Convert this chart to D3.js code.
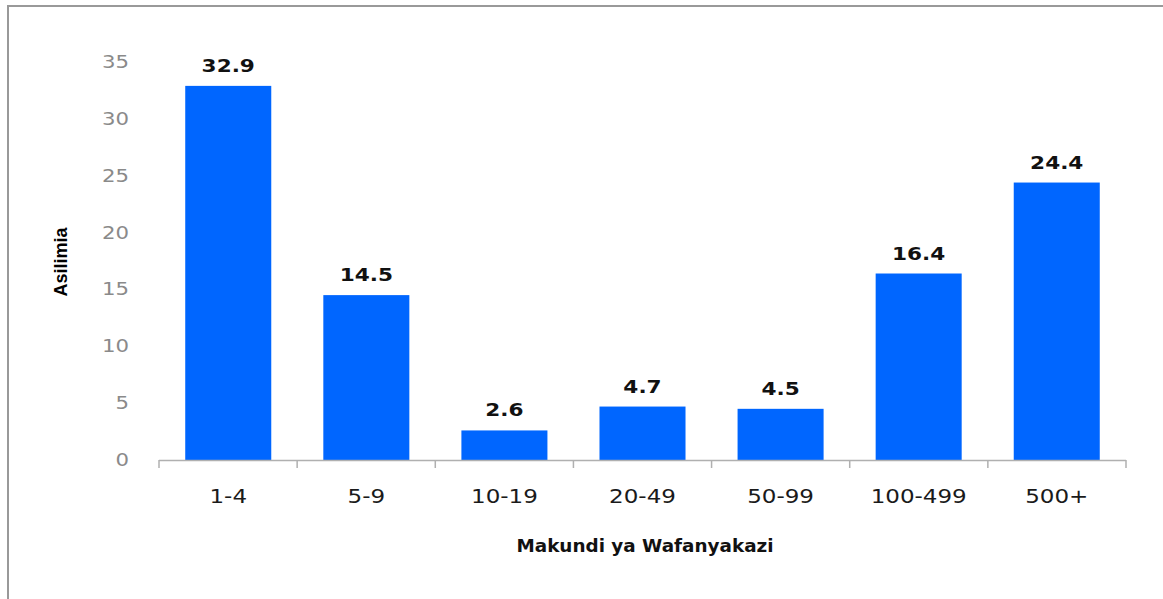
<!DOCTYPE html>
<html>
<head>
<meta charset="utf-8">
<script src="https://d3js.org/d3.v7.min.js"></script>
<style>
  body { margin: 0; background: #fff; }
  svg { display: block; }
</style>
</head>
<body>
<svg width="1163" height="599"></svg>
<script>
// chart data
const categories = ["1-4", "5-9", "10-19", "20-49", "50-99", "100-499", "500+"];
const values = [32.9, 14.5, 2.6, 4.7, 4.5, 16.4, 24.4];
const yTicks = [0, 5, 10, 15, 20, 25, 30, 35];

const svg = d3.select("svg");

// frame (only left and top edges show in the original)
svg.append("line").attr("x1", 8).attr("x2", 8).attr("y1", 6).attr("y2", 599)
  .attr("stroke", "#999").attr("stroke-width", 2);
svg.append("line").attr("x1", 7).attr("x2", 1163).attr("y1", 6).attr("y2", 6)
  .attr("stroke", "#999").attr("stroke-width", 2);

const plotLeft = 159, plotRight = 1126, plotTop = 62, plotBottom = 460;

const x = d3.scaleBand()
  .domain(categories)
  .range([plotLeft, plotRight])
  .paddingInner(0.377)
  .paddingOuter(0.19);

const y = d3.scaleLinear().domain([0, 35]).range([plotBottom, plotTop]);

// the source picture is a bit stretched sideways, so text gets a horizontal scale
const place = (px, py, sx) => `translate(${px},${py}) scale(${sx},1)`;

// bars
svg.append("g").selectAll("rect")
  .data(values)
  .join("rect")
  .attr("x", (d, i) => x(categories[i]))
  .attr("y", d => y(d))
  .attr("width", x.bandwidth())
  .attr("height", d => y(0) - y(d))
  .attr("fill", "#0066ff");

// value labels
svg.append("g").selectAll("text")
  .data(values)
  .join("text")
  .attr("transform", (d, i) => place(x(categories[i]) + x.bandwidth() / 2, y(d) - 14, 1.2))
  .attr("text-anchor", "middle")
  .attr("font-family", "DejaVu Sans")
  .attr("font-weight", "bold")
  .attr("font-size", 18)
  .attr("fill", "#111")
  .text(d => d.toFixed(1));

// y tick labels (no axis line)
svg.append("g").selectAll("text")
  .data(yTicks)
  .join("text")
  .attr("transform", d => place(129, y(d) + 6, 1.25))
  .attr("text-anchor", "end")
  .attr("font-family", "DejaVu Sans")
  .attr("font-size", 17)
  .attr("fill", "#8a8a8a")
  .text(d => d);

// x axis line with ticks at category boundaries
const bounds = d3.range(categories.length + 1)
  .map(i => plotLeft + i * (plotRight - plotLeft) / categories.length);
svg.append("line").attr("x1", plotLeft).attr("x2", plotRight)
  .attr("y1", plotBottom + 0.5).attr("y2", plotBottom + 0.5)
  .attr("stroke", "#b0b0b0").attr("stroke-width", 1.5);
svg.append("g").selectAll("line")
  .data(bounds)
  .join("line")
  .attr("x1", d => d).attr("x2", d => d)
  .attr("y1", plotBottom).attr("y2", plotBottom + 8)
  .attr("stroke", "#b0b0b0").attr("stroke-width", 1.5);

// category labels
svg.append("g").selectAll("text")
  .data(categories)
  .join("text")
  .attr("transform", d => place(x(d) + x.bandwidth() / 2, 503, 1.15))
  .attr("text-anchor", "middle")
  .attr("font-family", "DejaVu Sans")
  .attr("font-size", 20)
  .attr("fill", "#1a1a1a")
  .text(d => d);

// axis titles
svg.append("text")
  .attr("transform", place(645, 552, 1.05))
  .attr("text-anchor", "middle")
  .attr("font-family", "DejaVu Sans")
  .attr("font-weight", "bold")
  .attr("font-size", 17.5)
  .attr("fill", "#111")
  .text("Makundi ya Wafanyakazi");

svg.append("text")
  .attr("transform", "translate(67,262) rotate(-90)")
  .attr("text-anchor", "middle")
  .attr("font-family", "Liberation Sans Narrow, Liberation Sans, sans-serif")
  .attr("font-weight", "bold")
  .attr("font-size", 18)
  .attr("fill", "#000")
  .text("Asilimia");
</script>
</body>
</html>
